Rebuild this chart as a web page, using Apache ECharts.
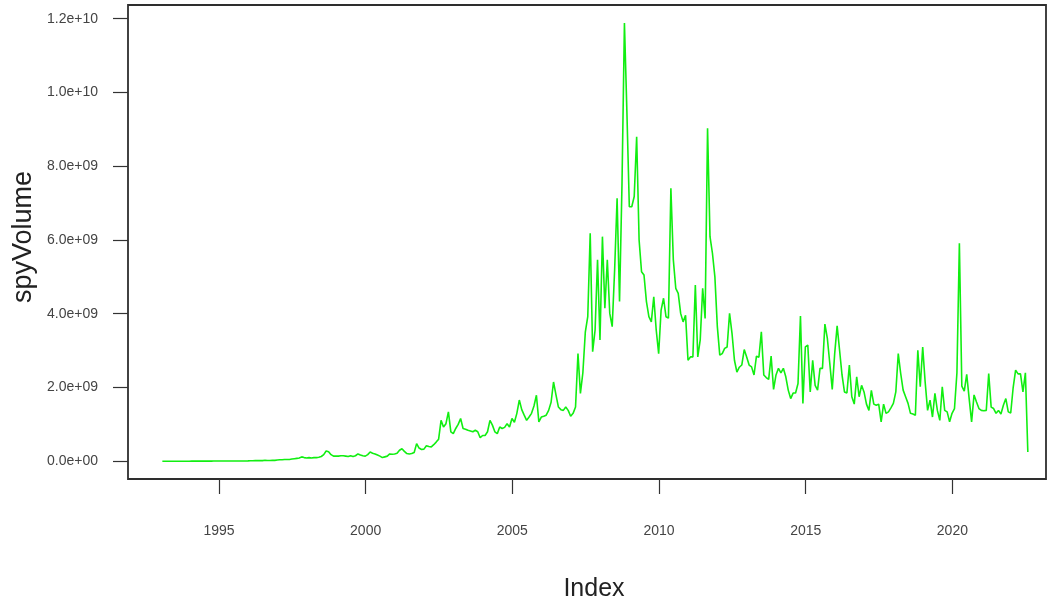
<!DOCTYPE html>
<html><head><meta charset="utf-8">
<script src="https://cdn.jsdelivr.net/npm/echarts@6/dist/echarts.min.js"></script>
<style>html,body{margin:0;padding:0;background:#fff}#c{width:1051px;height:605px}</style>
</head><body><div id="c"></div>
<script>
// Monthly SPY volume, in units of 1e9 shares (Jan..Dec each year)
const startYear = 1993;
const vol1993 = [0.001,0.002,0.002,0.002,0.002,0.002,0.002,0.002,0.002,0.002,0.003,0.003];
const vol1994 = [0.004,0.005,0.006,0.005,0.004,0.004,0.005,0.005,0.005,0.006,0.006,0.007];
const vol1995 = [0.006,0.006,0.008,0.007,0.008,0.009,0.008,0.008,0.009,0.010,0.010,0.012];
const vol1996 = [0.015,0.016,0.020,0.018,0.017,0.019,0.028,0.022,0.021,0.024,0.026,0.035];
const vol1997 = [0.04,0.04,0.05,0.05,0.05,0.06,0.07,0.08,0.09,0.12,0.10,0.09];
const vol1998 = [0.10,0.09,0.10,0.10,0.11,0.13,0.18,0.28,0.26,0.18,0.14,0.14];
const vol1999 = [0.14,0.15,0.15,0.14,0.13,0.15,0.13,0.15,0.20,0.17,0.15,0.14];
const vol2000 = [0.18,0.25,0.22,0.20,0.17,0.14,0.10,0.12,0.14,0.20,0.19,0.20];
const vol2001 = [0.22,0.30,0.34,0.27,0.21,0.20,0.21,0.24,0.48,0.36,0.32,0.33];
const vol2002 = [0.42,0.40,0.39,0.45,0.52,0.60,1.11,0.93,1.02,1.34,0.80,0.75];
const vol2003 = [0.89,1.00,1.16,0.89,0.87,0.84,0.82,0.80,0.84,0.80,0.64,0.70];
const vol2004 = [0.70,0.80,1.11,0.98,0.80,0.75,0.93,0.89,0.92,1.02,0.93,1.16];
const vol2005 = [1.06,1.30,1.66,1.40,1.25,1.11,1.20,1.30,1.50,1.79,1.07,1.20];
const vol2006 = [1.22,1.25,1.38,1.60,2.15,1.80,1.47,1.40,1.38,1.47,1.38,1.22];
const vol2007 = [1.30,1.47,2.92,1.84,2.40,3.50,3.92,6.18,2.97,3.56,5.46,3.29];
const vol2008 = [6.09,4.15,5.46,4.01,3.65,5.20,7.13,4.33,7.50,11.88,9.50,6.90];
const vol2009 = [6.90,7.18,8.80,6.00,5.14,5.05,4.33,3.92,3.78,4.46,3.56,2.92];
const vol2010 = [4.10,4.42,3.92,3.88,7.40,5.46,4.69,4.55,4.01,3.78,3.96,2.74];
const vol2011 = [2.83,2.83,4.78,2.83,3.29,4.69,3.87,9.03,6.09,5.64,5.00,3.65];
const vol2012 = [2.88,2.92,3.06,3.10,4.01,3.47,2.74,2.42,2.55,2.61,3.03,2.83];
const vol2013 = [2.61,2.56,2.34,2.85,2.82,3.51,2.34,2.27,2.22,2.85,1.95,2.34];
const vol2014 = [2.52,2.40,2.52,2.29,1.93,1.70,1.85,1.85,2.11,3.94,1.57,3.10];
const vol2015 = [3.15,1.88,2.74,2.06,1.93,2.52,2.52,3.72,3.33,2.65,1.95,2.92];
const vol2016 = [3.67,3.01,2.34,1.88,1.85,2.61,1.75,1.55,2.29,1.75,2.06,1.88];
const vol2017 = [1.55,1.38,1.92,1.55,1.52,1.55,1.07,1.55,1.30,1.34,1.45,1.57];
const vol2018 = [1.88,2.92,2.38,1.93,1.75,1.57,1.30,1.28,1.25,3.01,2.02,3.10];
const vol2019 = [2.15,1.38,1.66,1.20,1.84,1.38,1.11,2.02,1.38,1.34,1.07,1.30];
const vol2020 = [1.43,2.40,5.91,2.04,1.90,2.36,1.70,1.07,1.80,1.61,1.43,1.38];
const vol2021 = [1.37,1.38,2.38,1.47,1.43,1.30,1.38,1.28,1.52,1.70,1.34,1.31];
const vol2022 = [2.00,2.47,2.37,2.37,1.88,2.40,0.25];

const yTickValues = [0, 2, 4, 6, 8, 10, 12];
const yTickLabels = ['0.0e+00','2.0e+09','4.0e+09','6.0e+09','8.0e+09','1.0e+10','1.2e+10'];
const xTickYears = [1995, 2000, 2005, 2010, 2015, 2020];
const xTitle = 'Index';
const yTitle = 'spyVolume';

const yearArrays = [vol1993,vol1994,vol1995,vol1996,vol1997,vol1998,vol1999,vol2000,vol2001,vol2002,
  vol2003,vol2004,vol2005,vol2006,vol2007,vol2008,vol2009,vol2010,vol2011,vol2012,vol2013,vol2014,
  vol2015,vol2016,vol2017,vol2018,vol2019,vol2020,vol2021,vol2022];
const seriesData = [];
yearArrays.forEach((arr, yi) => arr.forEach((v, mi) => {
  seriesData.push([startYear + yi + (mi + 0.85) / 12, v]);
}));

const FONT = '"Liberation Sans", Arial, Helvetica, sans-serif';
const chart = echarts.init(document.getElementById('c'), null, {renderer: 'canvas'});
chart.setOption({
  animation: false,
  backgroundColor: '#ffffff',
  grid: {left: 128, right: 5, top: 5, bottom: 126, show: true,
         borderColor: '#2e2e2e', borderWidth: 1.8, backgroundColor: 'transparent'},
  xAxis: {
    type: 'value', min: 1991.9, max: 2023.19,
    axisLine: {show: false, onZero: false}, splitLine: {show: false},
    axisTick: {show: true, inside: false, length: 15, customValues: xTickYears,
               lineStyle: {color: '#333333', width: 1.2}},
    axisLabel: {customValues: xTickYears, margin: 45, color: '#444444', fontSize: 14,
                fontFamily: FONT, formatter: v => String(Math.round(v))}
  },
  yAxis: {
    type: 'value', min: -0.48, max: 12.37,
    axisLine: {show: false, onZero: false}, splitLine: {show: false},
    axisTick: {show: true, inside: false, length: 15, customValues: yTickValues,
               lineStyle: {color: '#333333', width: 1.2}},
    axisLabel: {customValues: yTickValues, margin: 30, color: '#444444', fontSize: 14,
                fontFamily: FONT,
                formatter: v => {
                  const i = yTickValues.findIndex(t => Math.abs(t - v) < 1e-6);
                  return i >= 0 ? yTickLabels[i] : '';
                }}
  },
  series: [{
    type: 'line', data: seriesData, showSymbol: false, symbol: 'none',
    lineStyle: {color: '#11ee11', width: 1.6}, itemStyle: {color: '#11ee11'},
    clip: true
  }],
  graphic: [
    {type: 'text', x: 594, y: 589,
     style: {text: xTitle, font: '25px ' + FONT, fill: '#222222',
             align: 'center', verticalAlign: 'middle', textAlign: 'center', textVerticalAlign: 'middle'}},
    {type: 'text', x: 24, y: 237, rotation: Math.PI / 2,
     style: {text: yTitle, font: '27px ' + FONT, fill: '#222222',
             align: 'center', verticalAlign: 'middle', textAlign: 'center', textVerticalAlign: 'middle'}}
  ]
});
</script>
</body></html>
